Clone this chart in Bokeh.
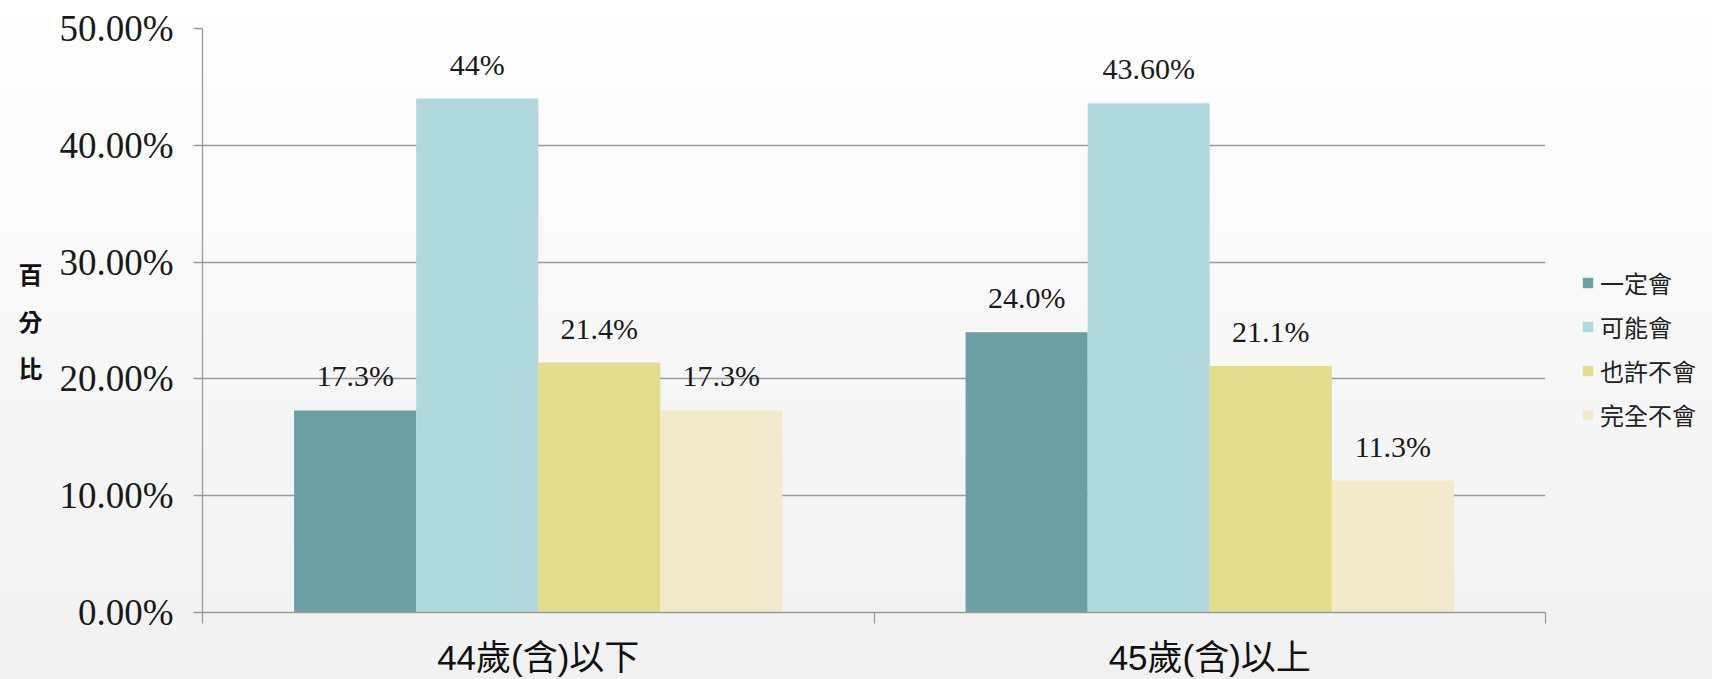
from bokeh.plotting import figure
from bokeh.layouts import row
from bokeh.models import (ColumnDataSource, Range1d, FixedTicker, PrintfTickFormatter,
                          LabelSet, Legend, LegendItem)
from bokeh.core.properties import value
from bokeh.embed import file_html
from bokeh.resources import INLINE

# ---- data ----
groups = ["44歲(含)以下", "45歲(含)以上"]
series = ["一定會", "可能會", "也許不會", "完全不會"]
values_44_below = [17.3, 44.0, 21.4, 17.3]
values_45_above = [24.0, 43.6, 21.1, 11.3]
labels_44_below = ["17.3%", "44%", "21.4%", "17.3%"]
labels_45_above = ["24.0%", "43.60%", "21.1%", "11.3%"]
y_ticks = [0, 10, 20, 30, 40, 50]

colors = ["#6b9fa3", "#b1d8dd", "#e3dc8b", "#f1ebcb"]
values_by_group = [values_44_below, values_45_above]
labels_by_group = [labels_44_below, labels_45_above]

BAR_W = 0.1818
GRID = "#9a9a9a"
PAGE_BG = {"background": "linear-gradient(to bottom, #ffffff 0%, #f7f7f7 50%, #f1f1f1 100%)"}

p = figure(width=1560, height=679,
           x_range=Range1d(0, len(groups)), y_range=Range1d(0, y_ticks[-1]),
           output_backend="svg", toolbar_location=None,
           min_border_left=202, min_border_right=15,
           min_border_top=28, min_border_bottom=66)
p.background_fill_alpha = 0
p.border_fill_alpha = 0
p.outline_line_color = None
p.styles = PAGE_BG

# grid
p.xgrid.visible = False
p.ygrid.ticker = FixedTicker(ticks=y_ticks)
p.ygrid.grid_line_color = GRID
p.ygrid.grid_line_width = 1.3

# y axis
ya = p.yaxis[0]
ya.ticker = FixedTicker(ticks=y_ticks)
ya.formatter = PrintfTickFormatter(format="%.2f%%")
ya.axis_line_color = GRID
ya.axis_line_width = 1.3
ya.major_tick_line_color = GRID
ya.major_tick_line_width = 1.3
ya.major_tick_out = 9
ya.major_tick_in = 0
ya.minor_tick_line_color = None
ya.major_label_standoff = 20
ya.major_label_text_font = "Liberation Serif"
ya.major_label_text_font_size = "37px"
ya.major_label_text_color = "#1a1a1a"
ya.axis_label = "百\n分\n比"
ya.axis_label_orientation = "horizontal"
ya.axis_label_text_font = "Noto Sans CJK TC"
ya.axis_label_text_font_style = "bold"
ya.axis_label_text_font_size = "24px"
ya.axis_label_text_line_height = 1.35
ya.axis_label_text_color = "#111111"
ya.axis_label_standoff = 14

# x axis: category labels at centres, tick marks at category boundaries
xa = p.xaxis[0]
xa.ticker = FixedTicker(ticks=[i + 0.5 for i in range(len(groups))],
                        minor_ticks=list(range(len(groups) + 1)))
xa.major_label_overrides = {i + 0.5: g for i, g in enumerate(groups)}
xa.axis_line_color = GRID
xa.axis_line_width = 1.3
xa.major_tick_out = 0
xa.major_tick_in = 0
xa.minor_tick_out = 11
xa.minor_tick_in = 0
xa.minor_tick_line_color = GRID
xa.minor_tick_line_width = 1.3
xa.major_label_standoff = 14
xa.major_label_text_font = "Liberation Sans, Noto Sans CJK TC"
xa.major_label_text_font_size = "35px"
xa.major_label_text_color = "#111111"

# bars
sources = []
lab_x, lab_y, lab_t = [], [], []
for si, s in enumerate(series):
    xs = [gi + 0.5 + (si - 1.5) * BAR_W for gi in range(len(groups))]
    tops = [values_by_group[gi][si] for gi in range(len(groups))]
    src = ColumnDataSource(dict(x=xs, top=tops))
    sources.append(src)
    p.vbar(x="x", top="top", width=BAR_W, bottom=0, source=src,
           fill_color=colors[si], line_color=None)
    lab_x += xs
    lab_y += tops
    lab_t += [labels_by_group[gi][si] for gi in range(len(groups))]

lsrc = ColumnDataSource(dict(x=lab_x, y=lab_y, t=lab_t))
p.add_layout(LabelSet(x="x", y="y", text="t", source=lsrc, y_offset=24,
                      text_align="center", text_baseline="alphabetic",
                      text_font=value("Liberation Serif"), text_font_size=value("30px"),
                      text_color="#1a1a1a"))

# ---- legend panel (right of the chart) ----
lp = figure(width=152, height=679, x_range=Range1d(0, 1), y_range=Range1d(0, 1),
            output_backend="svg", toolbar_location=None,
            x_axis_location=None, y_axis_location=None, min_border=0)
lp.background_fill_alpha = 0
lp.border_fill_alpha = 0
lp.outline_line_color = None
lp.grid.visible = False
lp.styles = PAGE_BG

items = []
for si, s in enumerate(series):
    # same series data, hidden here: only used as the legend key
    key = lp.vbar(x="x", top="top", width=BAR_W, source=sources[si],
                  fill_color=colors[si], line_color=None, visible=False)
    items.append(LegendItem(label=s, renderers=[key]))

legend = Legend(items=items, location=(21, 180), margin=0, padding=5,
                glyph_width=13, glyph_height=13, label_standoff=6,
                label_height=22, spacing=9,
                label_text_font="Noto Sans CJK TC", label_text_font_size="24px",
                label_text_color="#222222",
                border_line_color=None, background_fill_alpha=0,
                inactive_fill_alpha=0)
lp.add_layout(legend)

layout = row(p, lp, spacing=0)
open("out.html", "w").write(file_html(layout, INLINE))
